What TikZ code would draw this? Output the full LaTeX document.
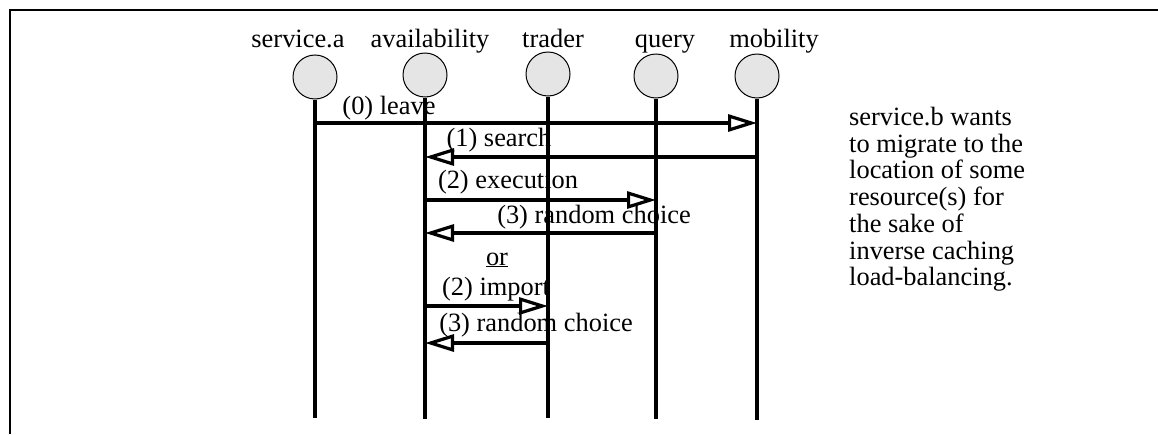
\documentclass[tikz,border=0pt]{standalone}
\usepackage{fontspec}
\setmainfont{Liberation Serif}
\usetikzlibrary{arrows.meta}
\begin{document}
\begin{tikzpicture}[x=1pt,y=-1pt,
  obj/.style={circle, draw, line width=1pt, fill=black!10, minimum size=44pt, inner sep=0pt},
  life/.style={line width=3.2pt},
  msg/.style={line width=3.2pt, -{Triangle[open,length=29pt,width=17pt]}},
  lbl/.style={font=\fontsize{26.4}{26.7}\selectfont, anchor=base, inner sep=0pt},
  frameline/.style={line width=2.2pt}]
\useasboundingbox (0,0) rectangle (1158,434);
% frame
\coordinate (fl) at (10,434);
\coordinate (fc) at (10,10);
\coordinate (fr) at (1158,10);
\draw[frameline] (fl) -- (fc) -- (fr);
% objects
\node[obj] (sa) at (315,77) {};
\node[obj] (av) at (425,75) {};
\node[obj] (tr) at (548,74) {};
\node[obj] (qu) at (656,76) {};
\node[obj] (mo) at (757,76) {};
% names
\node[lbl] (tsa) at (298,47) {service.a};
\node[lbl] (tav) at (430,47) {availability};
\node[lbl] (ttr) at (553,47) {trader};
\node[lbl] (tqu) at (665,47) {query};
\node[lbl] (tmo) at (774,47) {mobility};
% lifeline ends
\coordinate (sab) at (315,418);
\coordinate (avb) at (425,419);
\coordinate (trb) at (548,418);
\coordinate (qub) at (656,419);
\coordinate (mob) at (757,420);
\draw[life] (sa.south) -- (sab);
\draw[life] (av.south) -- (avb);
\draw[life] (tr.south) -- (trb);
\draw[life] (qu.south) -- (qub);
\draw[life] (mo.south) -- (mob);
% message levels
\coordinate (m0) at (0,123);
\coordinate (m1) at (0,157);
\coordinate (m2) at (0,200);
\coordinate (m3) at (0,233);
\coordinate (m4) at (0,306);
\coordinate (m5) at (0,343);
\draw[msg] (sa |- m0) -- (mo |- m0);
\draw[msg] (mo |- m1) -- (av |- m1);
\draw[msg] (av |- m2) -- (qu |- m2);
\draw[msg] (qu |- m3) -- (av |- m3);
\draw[msg] (av |- m4) -- (tr |- m4);
\draw[msg] (tr |- m5) -- (av |- m5);
% message labels
\node[lbl] (l0) at (389,114) {(0) leave};
\node[lbl] (l1) at (499,146) {(1) search};
\node[lbl] (l2) at (508,188) {(2) execution};
\node[lbl] (l3) at (594,223) {(3) random choice};
\node[lbl] (lor) at (497,265) {\underline{or}};
\node[lbl] (l4) at (496,295) {(2) import};
\node[lbl] (l5) at (536,331) {(3) random choice};
% note
\node[lbl, anchor=north west, align=left] (note) at (849,107) {service.b wants\\to migrate to the\\location of some\\resource(s) for\\the sake of\\inverse caching\\load-balancing.};
\end{tikzpicture}
\end{document}
